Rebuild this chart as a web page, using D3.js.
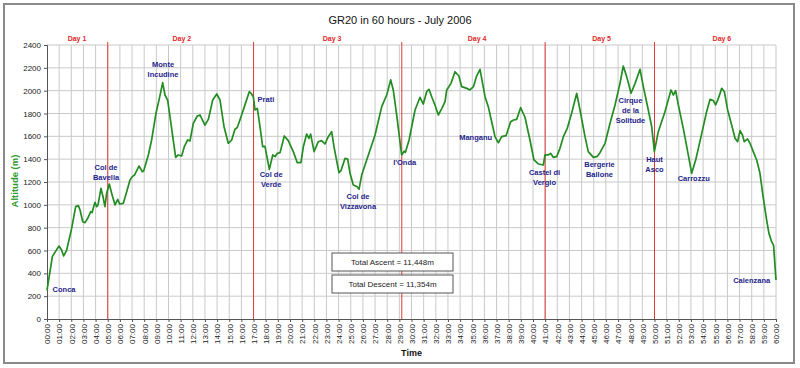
<!DOCTYPE html>
<html>
<head>
<meta charset="utf-8">
<script src="https://cdn.jsdelivr.net/npm/d3@7"></script>
<style>
  body { margin: 0; background: #fff; }
  svg { display: block; font-family: Arial, "Liberation Sans", sans-serif; }
</style>
</head>
<body>
<div id="chart"></div>
<script>
// elapsed time (hours) and altitude (m)
const hours = [0, 0.44, 0.6, 0.99, 1.2, 1.37, 1.62, 2.03, 2.36, 2.58, 2.72, 2.94, 3.13, 3.35, 3.6, 3.7, 3.95, 4.09, 4.2,
  4.44, 4.61, 4.77, 4.91, 5.13, 5.32, 5.6, 5.82, 5.98, 6.28, 6.56, 6.83, 7.02, 7.2, 7.57, 7.85, 7.97, 8.34, 8.61, 8.97,
  9.25, 9.52, 9.71, 9.93, 10.2, 10.59, 10.8, 11.08, 11.3, 11.58, 11.77, 12.04, 12.37, 12.59, 13.0, 13.28, 13.64, 13.97,
  14.24, 14.57, 14.92, 15.2, 15.47, 15.67, 16.02, 16.38, 16.65, 16.8, 16.98, 17.12, 17.31, 17.53, 17.75, 17.94, 18.3,
  18.58, 18.77, 18.96, 19.18, 19.53, 19.86, 20.27, 20.6, 20.9, 21.1, 21.37, 21.56, 21.7, 21.98, 22.33, 22.6, 22.88,
  23.15, 23.43, 23.62, 24.03, 24.2, 24.53, 24.75, 24.94, 25.21, 25.5, 25.68, 25.9, 26.45, 27.0, 27.55, 27.96, 28.29,
  28.5, 28.78, 29.0, 29.19, 29.4, 29.5, 29.8, 30.29, 30.7, 30.97, 31.25, 31.44, 31.7, 31.93, 32.21, 32.5, 32.76, 32.9,
  33.25, 33.58, 33.9, 34.13, 34.55, 34.81, 35.1, 35.36, 35.64, 36.05, 36.32, 36.6, 36.87, 37.15, 37.42, 37.78, 38.16,
  38.4, 38.66, 38.98, 39.34, 39.75, 40.08, 40.44, 40.85, 40.99, 41.26, 41.45, 41.67, 41.95, 42.22, 42.5, 42.82, 43.18,
  43.6, 43.87, 44.28, 44.55, 44.97, 45.3, 45.51, 45.93, 46.34, 46.75, 47.16, 47.43, 47.71, 48.07, 48.4, 48.81, 49.08,
  49.49, 49.77, 49.99, 50.31, 50.86, 51.36, 51.55, 51.74, 51.96, 52.37, 52.78, 53.06, 53.39, 53.83, 54.29, 54.57,
  54.84, 55.03, 55.25, 55.53, 55.75, 56.02, 56.35, 56.63, 56.84, 57.04, 57.24, 57.39, 57.66, 57.86, 58.13, 58.41,
  58.68, 58.96, 59.23, 59.42, 59.64, 59.8, 60];
const altitude = [250, 546, 575, 639, 604, 552, 604, 794, 984, 993, 955, 852, 844, 882, 940, 931, 1022, 984, 999,
  1145, 1071, 984, 1101, 1182, 1101, 999, 1048, 1007, 1013, 1115, 1218, 1247, 1261, 1340, 1290, 1300, 1437, 1568, 1802,
  1933, 2070, 1962, 1918, 1714, 1416, 1437, 1428, 1509, 1568, 1560, 1714, 1778, 1787, 1699, 1749, 1918, 1971,
  1918, 1684, 1539, 1568, 1662, 1679, 1787, 1904, 1991, 1977, 1947, 1831, 1845, 1684, 1509, 1512, 1311,
  1437, 1422, 1451, 1457, 1603, 1562, 1466, 1369, 1369, 1509, 1620, 1582, 1620, 1466, 1553, 1562, 1533,
  1597, 1641, 1509, 1282, 1300, 1407, 1400, 1276, 1174, 1160, 1136, 1261, 1437, 1612, 1860, 1962, 2094,
  2006, 1787, 1597, 1437, 1470, 1460, 1568, 1831, 1942, 1883, 1991, 2012, 1936, 1875, 1787, 1845, 1904, 2006,
  2064, 2166, 2128, 2035, 2020, 2006, 2035, 2128, 2187, 1947, 1860, 1728, 1597, 1544, 1597, 1606, 1728,
  1743, 1749, 1851, 1767, 1568, 1393, 1358, 1349, 1437, 1437, 1451, 1416, 1422, 1495, 1597, 1670, 1802,
  1977, 1831, 1597, 1466, 1416, 1425, 1457, 1539, 1714, 1875, 2064, 2216, 2123, 1977, 2064, 2187, 2035,
  1831, 1684, 1466, 1641, 1816, 2006, 1962, 2000, 1875, 1670, 1437, 1276, 1393, 1597, 1816, 1924,
  1914, 1875, 1930, 2020, 1991, 1831, 1699, 1583, 1553, 1650, 1612, 1553, 1577, 1539, 1466, 1393,
  1276, 1057, 867, 750, 677, 645, 342];

const yTicks = [0, 200, 400, 600, 800, 1000, 1200, 1400, 1600, 1800, 2000, 2200, 2400];
const xTicks = d3.range(0, 61);

const dayBreaks = [5, 17, 29.2, 41, 50];
const dayNames = ["Day 1", "Day 2", "Day 3", "Day 4", "Day 5", "Day 6"];
const dayCentres = [2.47, 11.1, 23.46, 35.4, 45.65, 55.55];

// place names, anchored in (hour, altitude) at the first line
const placeNames = [["Conca"], ["Col de", "Bavella"], ["Monte", "Incudine"], ["Prati"], ["Col de", "Verde"],
  ["Col de", "Vizzavona"], ["l'Onda"], ["Manganu"], ["Castel di", "Vergio"], ["Bergerie", "Ballone"],
  ["Cirque", "de la", "Solitude"], ["Haut", "Asco"], ["Carrozzu"], ["Calenzana"]];
const placeHours = [1.4, 4.86, 9.55, 18.02, 18.45, 25.6, 29.44, 35.28, 40.95, 45.47, 48.02, 50.0, 53.23, 58.0];
const placeAlts = [263, 1331, 2234, 1927, 1265, 1071, 1373, 1592, 1285, 1358, 1918, 1402, 1232, 342];

const totals = ["Total Ascent = 11,448m", "Total Descent = 11,354m"];

const W = 800, H = 368;
const svg = d3.select("#chart").append("svg").attr("width", W).attr("height", H);

svg.append("rect").attr("width", W).attr("height", H).attr("fill", "#fff");
// chart frame
svg.append("rect").attr("x", 4).attr("y", 4).attr("width", 790).attr("height", 359)
  .attr("fill", "none").attr("stroke", "#8a8a8a").attr("stroke-width", 2);

const x = d3.scaleLinear().domain([0, 60]).range([47, 776]);
const y = d3.scaleLinear().domain([0, 2400]).range([319, 45]);

// gridlines
svg.append("g").selectAll("line").data(xTicks.slice(1)).enter().append("line")
  .attr("x1", d => x(d)).attr("x2", d => x(d)).attr("y1", y(2400)).attr("y2", y(0))
  .attr("stroke", "#c9c9c9").attr("stroke-width", 1);
svg.append("g").selectAll("line").data(yTicks.slice(1)).enter().append("line")
  .attr("x1", x(0)).attr("x2", x(60)).attr("y1", d => y(d)).attr("y2", d => y(d))
  .attr("stroke", "#c9c9c9").attr("stroke-width", 1);

// axes
const yAxis = svg.append("g").attr("transform", `translate(${x(0)},0)`)
  .call(d3.axisLeft(y).tickValues(yTicks).tickSize(3).tickPadding(3).tickFormat(d3.format("d")));
const xAxis = svg.append("g").attr("transform", `translate(0,${y(0)})`)
  .call(d3.axisBottom(x).tickValues(xTicks).tickSize(3)
    .tickFormat(d => String(d).padStart(2, "0") + ":00"));
[yAxis, xAxis].forEach(a => {
  a.select(".domain").attr("stroke", "#555");
  a.selectAll(".tick line").attr("stroke", "#555");
  a.selectAll("text").attr("fill", "#222").style("font-size", "8px").style("font-family", "Arial, 'Liberation Sans', sans-serif");
});
xAxis.selectAll("text")
  .attr("transform", "rotate(-90)")
  .attr("text-anchor", "end")
  .attr("x", -5).attr("y", 0).attr("dy", "0.35em");

// day boundaries
svg.append("g").selectAll("line").data(dayBreaks).enter().append("line")
  .attr("x1", d => x(d)).attr("x2", d => x(d)).attr("y1", 42).attr("y2", y(0))
  .attr("stroke", "#e23a3a").attr("stroke-width", 1);
svg.append("g").selectAll("text").data(dayNames).enter().append("text")
  .attr("x", (d, i) => x(dayCentres[i])).attr("y", 41)
  .attr("text-anchor", "middle").attr("fill", "#e02828")
  .style("font-size", "7px").style("font-weight", "bold").text(d => d);

// profile
const line = d3.line().x((d, i) => x(hours[i])).y(d => y(d));
svg.append("path").datum(altitude).attr("d", line)
  .attr("fill", "none").attr("stroke", "#238c23").attr("stroke-width", 1.7)
  .attr("stroke-linejoin", "round");

// place labels
const places = svg.append("g").selectAll("text").data(placeNames).enter().append("text")
  .attr("x", (d, i) => x(placeHours[i])).attr("y", (d, i) => y(placeAlts[i]))
  .attr("text-anchor", "middle").attr("fill", "#1e1e8a")
  .style("font-size", "7.5px").style("font-weight", "bold");
places.each(function (d) {
  const t = d3.select(this), px = t.attr("x");
  d.forEach((s, j) => t.append("tspan").attr("x", px).attr("dy", j === 0 ? "0.35em" : "10px").text(s));
});

// title and axis titles
svg.append("text").attr("x", 400).attr("y", 24).attr("text-anchor", "middle")
  .attr("fill", "#111").style("font-size", "11px").text("GR20 in 60 hours - July 2006");
svg.append("text").attr("transform", "translate(18,181) rotate(-90)").attr("text-anchor", "middle")
  .attr("fill", "#2e9a2e").style("font-size", "9.5px").style("font-weight", "bold").text("Altitude (m)");
svg.append("text").attr("x", (x(0) + x(60)) / 2).attr("y", 356).attr("text-anchor", "middle")
  .attr("fill", "#111").style("font-size", "9px").style("font-weight", "bold").text("Time");

// totals boxes
const boxes = svg.append("g").selectAll("g").data(totals).enter().append("g")
  .attr("transform", (d, i) => `translate(332,${253 + i * 22})`);
boxes.append("rect").attr("width", 121).attr("height", 18)
  .attr("fill", "#fff").attr("stroke", "#555").attr("stroke-width", 1);
boxes.append("text").attr("x", 60.5).attr("y", 9).attr("dy", "0.35em").attr("text-anchor", "middle")
  .attr("fill", "#222").style("font-size", "8px").text(d => d);
</script>
</body>
</html>
